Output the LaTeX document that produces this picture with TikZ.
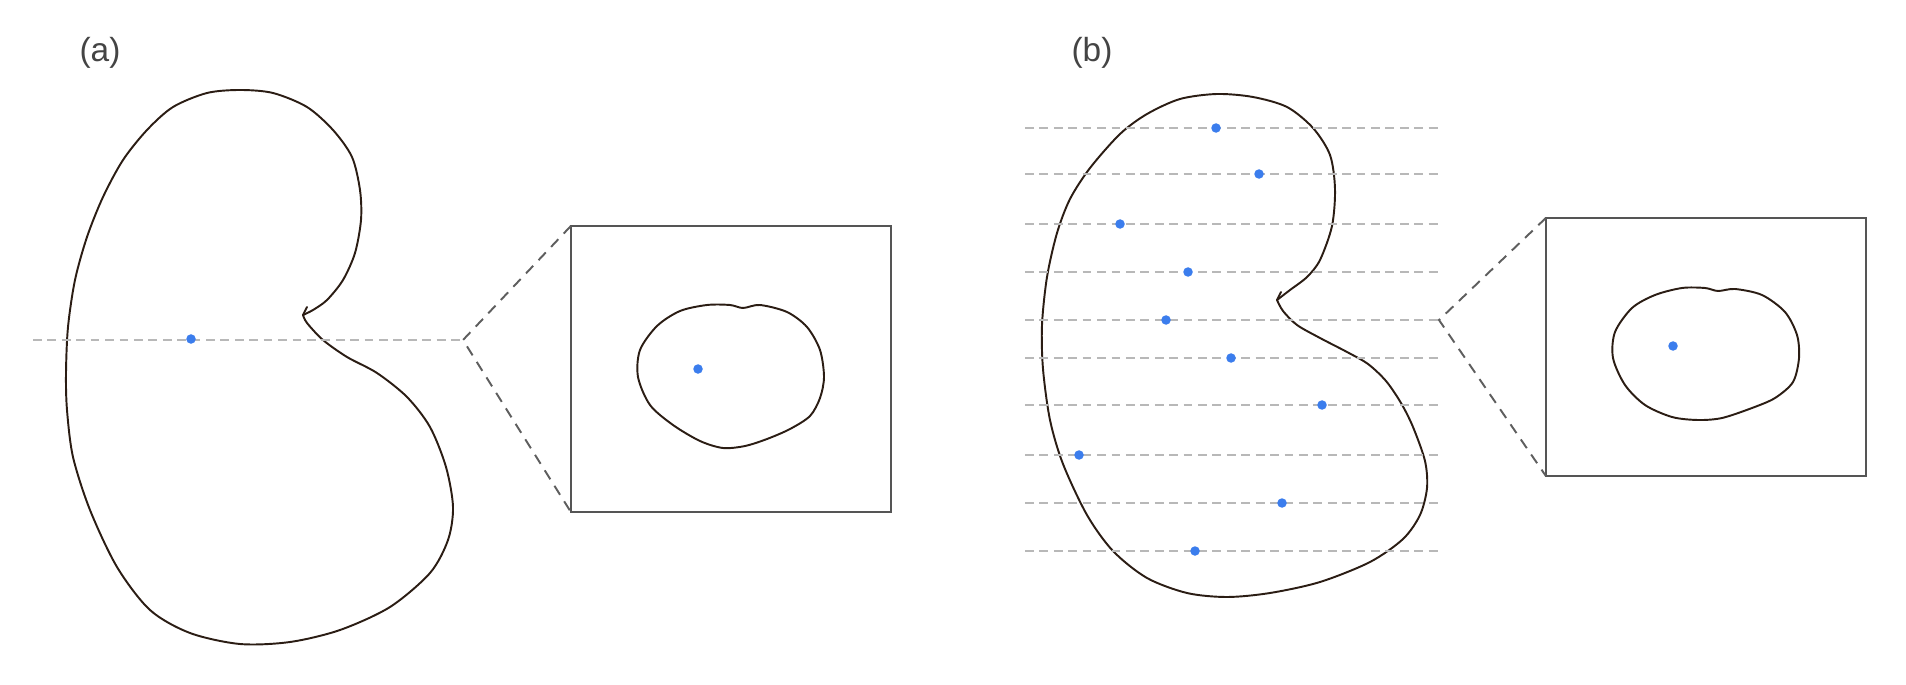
\documentclass[tikz,border=0pt]{standalone}
\usepackage{fontspec}
\setmainfont{Liberation Sans}
\usetikzlibrary{positioning}
\definecolor{InkBrown}{HTML}{2B1D14}
\definecolor{GuideGray}{HTML}{B8B8B8}
\definecolor{ZoomGray}{HTML}{5E5E5E}
\definecolor{FrameGray}{HTML}{555555}
\definecolor{DotBlue}{HTML}{3B7DED}
\definecolor{LabelGray}{HTML}{444444}

\begin{document}
\begin{tikzpicture}[x=0.01cm,y=-0.01cm,
  every node/.style={inner sep=0pt,outer sep=0pt},
  outline/.style={InkBrown,line width=0.55pt,line join=round,line cap=round},
  guide/.style={GuideGray,line width=0.65pt,dash pattern=on 2.5pt off 1.6pt},
  zoomline/.style={ZoomGray,line width=0.55pt,dash pattern=on 3pt off 2.2pt},
  frame/.style={draw=FrameGray,line width=0.75pt,minimum width=3.2cm},
  dot/.style={circle,fill=DotBlue,minimum size=0.095cm},
  tag/.style={font=\fontsize{9.5}{11}\selectfont,text=LabelGray}]
  \useasboundingbox (0,0) rectangle (1906,685);

  \node[tag] (taga) at (100,53) {(a)};
  \node[frame,minimum height=2.86cm] (boxa) at (731,369) {};
  \draw[outline] plot[smooth,tension=0.5] coordinates {(303,315) (307,323) (323,340) (347,357) (377,373) (407,397) (430,427) (446,467) (453,507) (448,540) (430,573) (390,607) (340,630) (290,642) (240,644) (190,633) (150,610) (117,567) (90,510) (73,457) (67,410) (66,373) (68,327) (75,280) (87,237) (103,197) (123,160) (147,130) (173,107) (207,93) (240,90) (273,93) (307,107) (333,130) (352,157) (360,190) (361,220) (355,253) (343,280) (327,300) (313,310) (303,315)};
  \draw[outline] (303,315) -- (307,307);
  \draw[outline] plot[smooth cycle,tension=0.5] coordinates {(743,308) (760,305) (787,312) (807,327) (820,350) (824,377) (820,398) (810,416) (790,429) (767,439) (745,446) (723,448) (700,441) (673,425) (650,405) (638,377) (640,350) (657,326) (680,311) (707,305) (730,305)};
  \coordinate (starta) at (33,340);
  \coordinate (apexa) at (463,340);
  \draw[guide] (starta) -- (apexa);
  \node[dot] (dota) at (191,339) {};
  \draw[zoomline] (boxa.north west) -- (apexa) -- (boxa.south west);
  \node[dot] (corea) at (698,369) {};

  \node[tag] (tagb) at (1092,53) {(b)};
  \node[frame,minimum height=2.58cm] (boxb) at (1706,347) {};
  \draw[outline] plot[smooth,tension=0.5] coordinates {(1277,300) (1283,311) (1297,325) (1320,338) (1347,352) (1368,364) (1386,381) (1401,403) (1413,427) (1425,461) (1427,488) (1420,515) (1403,539) (1370,562) (1320,582) (1270,593) (1227,597) (1187,593) (1147,578) (1113,551) (1087,515) (1063,464) (1050,420) (1043,369) (1042,325) (1047,277) (1057,233) (1070,199) (1090,168) (1120,134) (1147,114) (1180,99) (1217,94) (1253,97) (1287,107) (1313,128) (1330,155) (1335,189) (1332,226) (1320,260) (1307,277) (1290,290) (1277,300)};
  \draw[outline] (1277,300) -- (1281,292);
  \draw[outline] plot[smooth cycle,tension=0.5] coordinates {(1718,291) (1735,289) (1762,295) (1785,312) (1797,335) (1799,358) (1793,382) (1775,398) (1752,408) (1722,418) (1698,420) (1672,417) (1645,405) (1625,385) (1613,358) (1615,332) (1632,308) (1655,295) (1682,288) (1705,288)};
  \foreach \i/\y/\dx in {1/128/1216,2/174/1259,3/224/1120,4/272/1188,5/320/1166,6/358/1231,7/405/1322,8/455/1079,9/503/1282,10/551/1195}{
    \coordinate (l\i) at (1025,\y);
    \coordinate (r\i) at (1439,\y);
    \draw[guide] (l\i) -- (r\i);
    \node[dot] (d\i) at (\dx,\y) {};
  }
  \draw[zoomline] (boxb.north west) -- (r5) -- (boxb.south west);
  \node[dot] (coreb) at (1673,346) {};
\end{tikzpicture}
\end{document}
